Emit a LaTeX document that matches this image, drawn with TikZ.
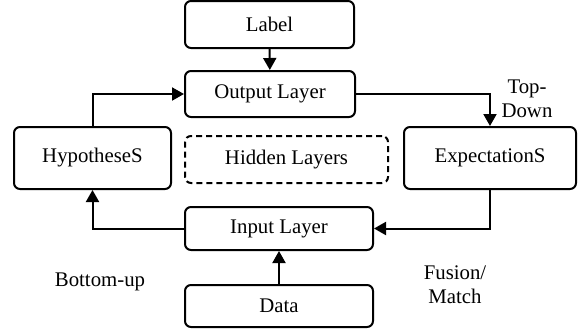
\documentclass[tikz,border=0pt]{standalone}
\usepackage{fontspec}
\setmainfont{Liberation Serif}
\usetikzlibrary{arrows.meta}

\begin{document}
\begin{tikzpicture}[x=0.5pt,y=-0.5pt,
  box/.style={draw,line width=1pt,rounded corners=3pt,font=\fontsize{10.4}{12}\selectfont},
  hidbox/.style={box,dash pattern=on 3pt off 2pt},
  arr/.style={line width=1pt,-{Triangle[length=6pt,width=6.5pt]}},
  lbl/.style={align=center,font=\fontsize{10.4}{12}\selectfont}]
\useasboundingbox (0,0) rectangle (580,328);

\node[box,minimum width=84.5pt,minimum height=23.5pt] (label) at (269.5,24.5) {Label};
\node[box,minimum width=85pt,minimum height=23pt] (output) at (270,94) {Output Layer};
\node[box,minimum width=78.5pt,minimum height=31pt] (hyp) at (92.5,158) {HypotheseS};
\node[hidbox,minimum width=101.5pt,minimum height=23.5pt] (hidden) at (286.5,159.5) {Hidden Layers};
\node[box,minimum width=86pt,minimum height=31pt] (exp) at (490,158) {ExpectationS};
\node[box,minimum width=94pt,minimum height=21.5pt] (input) at (279,228.5) {Input Layer};
\node[box,minimum width=94pt,minimum height=21pt] (data) at (279,306) {Data};

\node[lbl] (topdown) at (527,99) {Top-\\Down};
\node[lbl] (bottomup) at (100,282) {Bottom-up};
\node[lbl] (fusion) at (455,284.5) {Fusion/\\Match};

\draw[arr] (label) -- (output);
\draw[arr] (hyp.north) |- (output.west);
\draw[arr] (output.east) -| (exp.north);
\draw[arr] (exp.south) |- (input.east);
\draw[arr] (input.west) -| (hyp.south);
\draw[arr] (data) -- (input);
\end{tikzpicture}
\end{document}
